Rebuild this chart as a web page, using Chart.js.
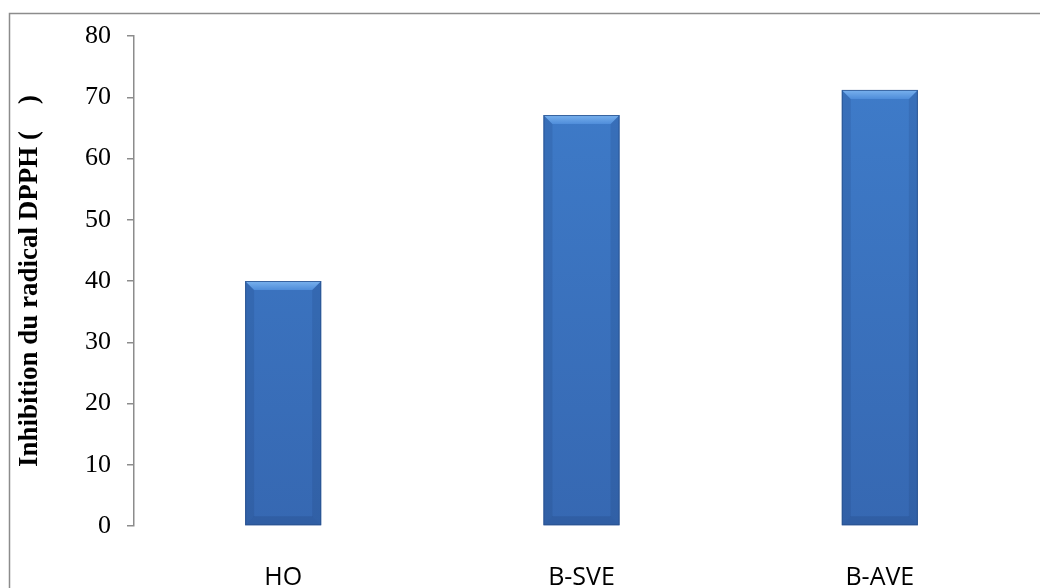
<!DOCTYPE html>
<html lang="fr">
<head>
    <meta charset="UTF-8">
    <title>Inhibition du radical DPPH</title>
    <script src="https://cdn.jsdelivr.net/npm/chart.js"></script>
    <style>
        body {
            margin: 0;
            background: #fff;
        }
        #wrap {
            position: relative;
            width: 1040px;
            height: 588px;
        }
    </style>
</head>
<body>

    <div id="wrap"><canvas id="dpphChart"></canvas></div>

    <script>
        // extraits testés et % d'inhibition du DPPH
        const categories = ['HO', 'B-SVE', 'B-AVE'];
        const inhibition = [40, 67.1, 71.2];
        const yTicks = [0, 10, 20, 30, 40, 50, 60, 70, 80];

        // cadre gris du graphique (style Excel)
        const frame = {
            id: 'frame',
            beforeDraw(chart) {
                const c = chart.ctx;
                c.save();
                c.strokeStyle = '#8c8c8c';
                c.lineWidth = 1.5;
                c.strokeRect(9.5, 13.5, chart.width + 20, chart.height + 20);
                c.restore();
            }
        };

        // dégradé vertical du corps de la barre
        function barFill(context) {
            const chart = context.chart;
            const area = chart.chartArea;
            if (!area) return '#3c79c6';
            const g = chart.ctx.createLinearGradient(0, area.top, 0, area.bottom);
            g.addColorStop(0, '#3f7dcb');
            g.addColorStop(1, '#3668b2');
            return g;
        }

        // effet biseauté sur chaque barre
        const bevel = {
            id: 'bevel',
            afterDatasetsDraw(chart) {
                const c = chart.ctx;
                const meta = chart.getDatasetMeta(0);
                meta.data.forEach(bar => {
                    const l = bar.x - bar.width / 2, r = bar.x + bar.width / 2;
                    const t = bar.y, b = bar.base;
                    const e = 9;
                    c.save();
                    // côtés, légèrement plus sombres
                    c.fillStyle = 'rgba(20, 50, 100, 0.14)';
                    c.beginPath();
                    c.moveTo(l, t); c.lineTo(l + e, t + e); c.lineTo(l + e, b - e); c.lineTo(l, b);
                    c.fill();
                    c.beginPath();
                    c.moveTo(r, t); c.lineTo(r - e, t + e); c.lineTo(r - e, b - e); c.lineTo(r, b);
                    c.fill();
                    // bas
                    c.fillStyle = 'rgba(20, 50, 100, 0.18)';
                    c.beginPath();
                    c.moveTo(l, b); c.lineTo(l + e, b - e); c.lineTo(r - e, b - e); c.lineTo(r, b);
                    c.fill();
                    // haut, plus clair
                    const g = c.createLinearGradient(0, t, 0, t + e);
                    g.addColorStop(0, '#7ab2ee');
                    g.addColorStop(1, '#4f8dda');
                    c.fillStyle = g;
                    c.beginPath();
                    c.moveTo(l, t); c.lineTo(r, t); c.lineTo(r - e, t + e); c.lineTo(l + e, t + e);
                    c.fill();
                    c.strokeStyle = 'rgba(40, 80, 140, 0.8)';
                    c.lineWidth = 1;
                    c.strokeRect(l + 0.5, t + 0.5, r - l - 1, b - t - 1);
                    c.restore();
                });
            }
        };

        const ctx = document.getElementById('dpphChart').getContext('2d');

        new Chart(ctx, {
            type: 'bar',
            data: {
                labels: categories,
                datasets: [{
                    data: inhibition,
                    backgroundColor: barFill,
                    borderWidth: 0,
                    categoryPercentage: 1,
                    barPercentage: 0.255
                }]
            },
            options: {
                responsive: true,
                maintainAspectRatio: false,
                animation: false,
                layout: { padding: { top: 36, right: 11, left: 0, bottom: 0 } },
                plugins: {
                    legend: { display: false },
                    tooltip: { enabled: false }
                },
                scales: {
                    x: {
                        grid: { display: false },
                        border: { display: false },
                        ticks: {
                            padding: 29,
                            color: '#000',
                            font: { family: 'Open Sans', size: 25 }
                        },
                        afterFit(scale) { scale.height = 62; }
                    },
                    y: {
                        min: 0,
                        max: 80,
                        afterBuildTicks(scale) {
                            scale.ticks = yTicks.map(v => ({ value: v }));
                        },
                        grid: {
                            drawOnChartArea: false,
                            tickLength: 7,
                            color: '#8c8c8c',
                            lineWidth: 1.5
                        },
                        border: { color: '#8c8c8c', width: 1.5 },
                        ticks: {
                            padding: 16,
                            color: '#000',
                            font: { family: 'Liberation Serif', size: 26 }
                        },
                        title: {
                            display: true,
                            text: 'Inhibition du radical DPPH (    )',
                            color: '#000',
                            padding: { top: 14, bottom: 0 },
                            font: { family: 'Liberation Serif', size: 27, weight: 'bold' }
                        },
                        afterFit(scale) { scale.width = 134; }
                    }
                }
            },
            plugins: [frame, bevel]
        });
    </script>

</body>
</html>
